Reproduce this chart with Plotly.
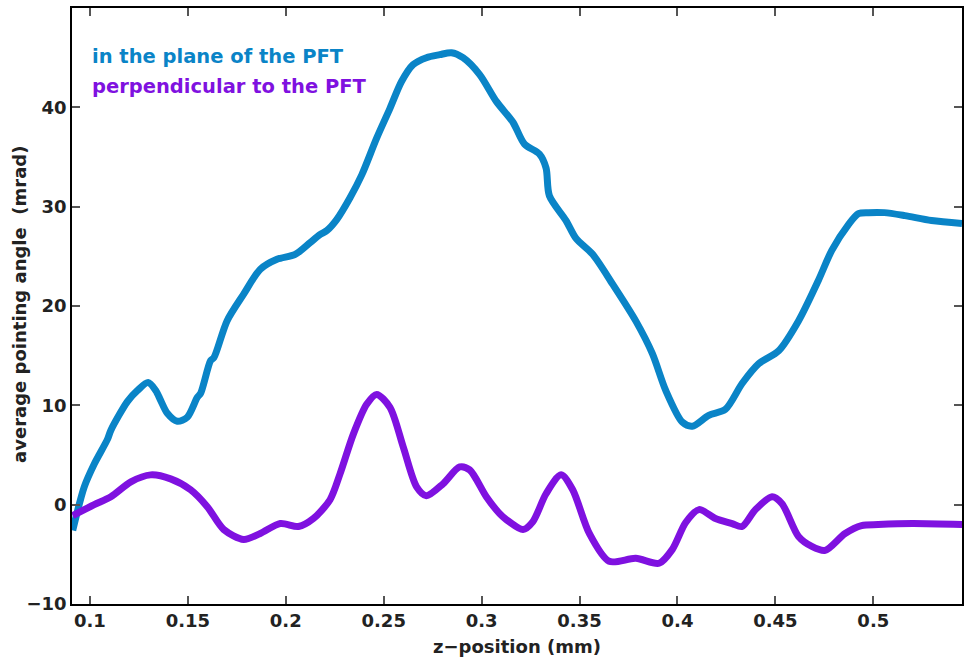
import plotly.graph_objects as go

# in the plane of the PFT
z_plane = [0.0912, 0.0971, 0.1022, 0.1090, 0.1107, 0.1192, 0.1243, 0.1297, 0.1336, 0.1361,
           0.1395, 0.1446, 0.1497, 0.1548, 0.1565, 0.1616, 0.1633, 0.1700, 0.1785, 0.1870,
           0.1955, 0.2048, 0.2125, 0.2176, 0.2210, 0.2260, 0.2328, 0.2388, 0.2464, 0.2532,
           0.2591, 0.2650, 0.2718, 0.2786, 0.2846, 0.2905, 0.2990, 0.3075, 0.3160, 0.3219,
           0.3295, 0.3329, 0.3346, 0.3431, 0.3482, 0.3567, 0.3669, 0.3787, 0.3872, 0.3940,
           0.4025, 0.4076, 0.4160, 0.4245, 0.4330, 0.4415, 0.4517, 0.4618, 0.4720, 0.4788,
           0.4873, 0.4924, 0.4975, 0.5056, 0.5161, 0.5297, 0.5453]
v_plane = [-2.6, 1.8, 4.1, 6.6, 7.5, 10.4, 11.5, 12.3, 11.5, 10.5,
           9.2, 8.4, 8.8, 10.8, 11.2, 14.5, 14.8, 18.5, 21.2, 23.7,
           24.7, 25.2, 26.4, 27.2, 27.6, 28.7, 30.9, 33.2, 36.9, 39.9,
           42.6, 44.3, 45.0, 45.3, 45.5, 45.0, 43.3, 40.6, 38.5, 36.3,
           35.3, 33.9, 31.1, 28.6, 26.8, 25.2, 22.2, 18.5, 15.2, 11.5,
           8.3, 7.9, 9.0, 9.6, 12.2, 14.2, 15.5, 18.5, 22.6, 25.6,
           28.2, 29.3, 29.4, 29.4, 29.1, 28.6, 28.3]

# perpendicular to the PFT
z_perp = [0.0912, 0.1022, 0.1107, 0.1209, 0.1310, 0.1412, 0.1514, 0.1599, 0.1683, 0.1785,
          0.1870, 0.1972, 0.2065, 0.2141, 0.2226, 0.2277, 0.2345, 0.2413, 0.2464, 0.2532,
          0.2600, 0.2668, 0.2718, 0.2803, 0.2888, 0.2939, 0.3024, 0.3092, 0.3126, 0.3211,
          0.3262, 0.3329, 0.3406, 0.3465, 0.3550, 0.3651, 0.3787, 0.3906, 0.3974, 0.4042,
          0.4110, 0.4194, 0.4279, 0.4330, 0.4398, 0.4483, 0.4534, 0.4618, 0.4686, 0.4754,
          0.4856, 0.4940, 0.5025, 0.5200, 0.5453]
v_perp = [-1.1, 0.0, 0.8, 2.3, 3.0, 2.6, 1.5, -0.2, -2.5, -3.5,
          -2.9, -1.9, -2.2, -1.4, 0.5, 3.1, 7.1, 10.1, 11.1, 9.8,
          5.8, 1.8, 0.9, 2.1, 3.8, 3.5, 0.8, -0.9, -1.5, -2.5,
          -1.7, 1.1, 3.0, 1.5, -2.9, -5.7, -5.4, -5.9, -4.5, -1.8,
          -0.5, -1.4, -1.9, -2.2, -0.5, 0.8, 0.1, -3.2, -4.2, -4.6,
          -2.9, -2.1, -2.0, -1.9, -2.0]

x_ticks = [0.1, 0.15, 0.2, 0.25, 0.3, 0.35, 0.4, 0.45, 0.5]
y_ticks = [-10, 0, 10, 20, 30, 40]

BLUE = "rgb(10,132,199)"
PURPLE = "rgb(127,17,224)"
FAM = "DejaVu Sans, Verdana, sans-serif"

fig = go.Figure()
fig.add_trace(go.Scatter(x=z_plane, y=v_plane, mode="lines",
                         line=dict(color=BLUE, width=7, shape="spline", smoothing=0.8),
                         name="in the plane of the PFT"))
fig.add_trace(go.Scatter(x=z_perp, y=v_perp, mode="lines",
                         line=dict(color=PURPLE, width=7, shape="spline", smoothing=0.8),
                         name="perpendicular to the PFT"))

font_main = dict(family=FAM, size=18, color="#222222", weight="bold")

fig.update_layout(
    width=964, height=661,
    margin=dict(l=72, r=0, t=8, b=57),
    paper_bgcolor="white", plot_bgcolor="white",
    showlegend=False,
    font=font_main,
    xaxis=dict(range=[0.09084, 0.54529], tickvals=x_ticks, ticktext=[str(v) for v in x_ticks],
               ticks="inside", ticklen=8, tickcolor="#555555", tickwidth=1.5,
               showline=True, linecolor="black", linewidth=1.5, mirror="ticks",
               showgrid=False, zeroline=False,
               title=dict(text="z\u2212position (mm)", standoff=10, font=font_main),
               tickfont=font_main),
    yaxis=dict(range=[-10, 50], tickvals=y_ticks, ticktext=["\u221210", "0", "10", "20", "30", "40"],
               ticks="inside", ticklen=8, tickcolor="#555555", tickwidth=1.5,
               showline=True, linecolor="black", linewidth=1.5, mirror="ticks",
               showgrid=False, zeroline=False,
               tickfont=font_main),
    annotations=[
        dict(text="average pointing angle  (mrad)", xref="paper", yref="paper",
             x=-0.0583, y=0.502, xanchor="center", yanchor="middle", textangle=-90,
             showarrow=False, font=font_main),
        dict(text="in the plane of the PFT", xref="paper", yref="paper", x=0.0205, y=0.918,
             xanchor="left", yanchor="middle", showarrow=False,
             font=dict(family=FAM, size=19.5, color=BLUE, weight="bold")),
        dict(text="perpendicular to the PFT", xref="paper", yref="paper", x=0.0205, y=0.869,
             xanchor="left", yanchor="middle", showarrow=False,
             font=dict(family=FAM, size=19.5, color=PURPLE, weight="bold")),
    ],
)

fig.write_html("out.html", config={"displayModeBar": False},
               post_script="document.body.style.margin='0px';")
